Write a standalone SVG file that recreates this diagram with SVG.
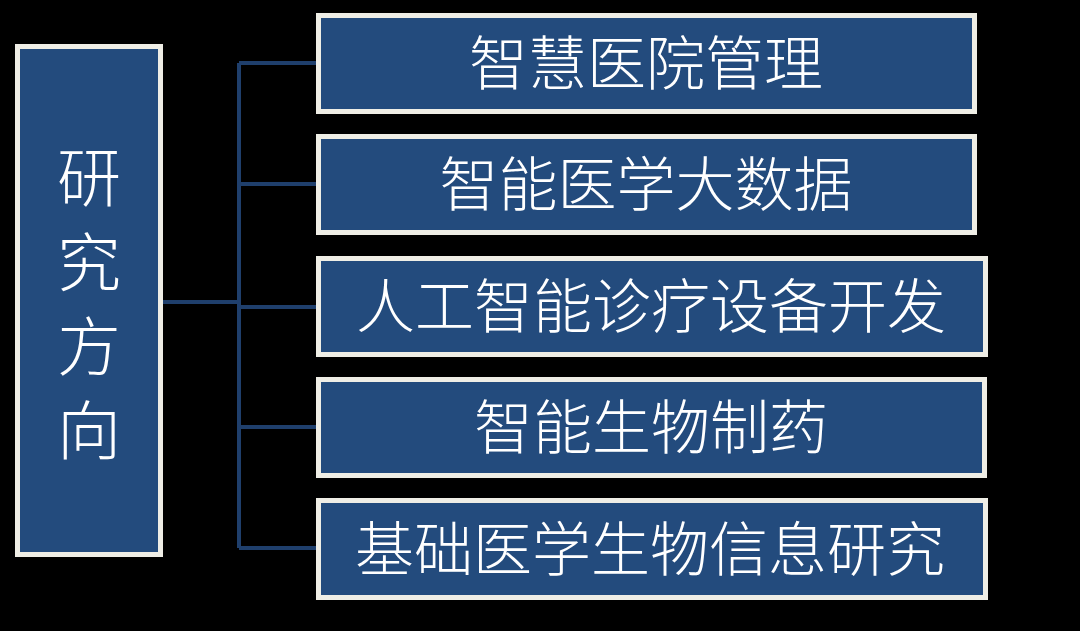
<svg xmlns="http://www.w3.org/2000/svg" width="1080" height="631" viewBox="0 0 1080 631">
<style>
.box{fill:#234B7D;stroke:#EFEEE6;stroke-width:5}
.t{fill:#FFFFFF;font-family:"Noto Sans CJK SC","Noto Sans CJK JP",sans-serif;font-weight:300;font-size:59px;text-anchor:middle;dominant-baseline:central}
.lt{font-size:64px}
.c{stroke:#1F3F6C;stroke-width:4;fill:none}
</style>
<rect width="1080" height="631" fill="#000000"/>
<g id="connectors">
<path class="c" d="M163 302 H239 M239 63 V548 M239 63 H316 M239 184 H316 M239 307 H316 M239 427 H316 M239 548 H316"/>
</g>
<g id="n0">
<rect class="box" x="17.5" y="46.5" width="143" height="508"/>
<text class="t lt" x="89" y="173">研</text>
<text class="t lt" x="89" y="258">究</text>
<text class="t lt" x="89" y="342">方</text>
<text class="t lt" x="89" y="426">向</text>
</g>
<g id="n1">
<rect class="box" x="318.5" y="15.5" width="656" height="96"/>
<text class="t" x="646" y="59">智慧医院管理</text>
</g>
<g id="n2">
<rect class="box" x="318.5" y="136.5" width="656" height="96"/>
<text class="t" x="646" y="180">智能医学大数据</text>
</g>
<g id="n3">
<rect class="box" x="318.5" y="258.5" width="667" height="96"/>
<text class="t" x="651" y="302">人工智能诊疗设备开发</text>
</g>
<g id="n4">
<rect class="box" x="318.5" y="379.5" width="666" height="96"/>
<text class="t" x="651" y="423">智能生物制药</text>
</g>
<g id="n5">
<rect class="box" x="318.5" y="500.5" width="667" height="97"/>
<text class="t" x="650" y="545">基础医学生物信息研究</text>
</g>
</svg>
